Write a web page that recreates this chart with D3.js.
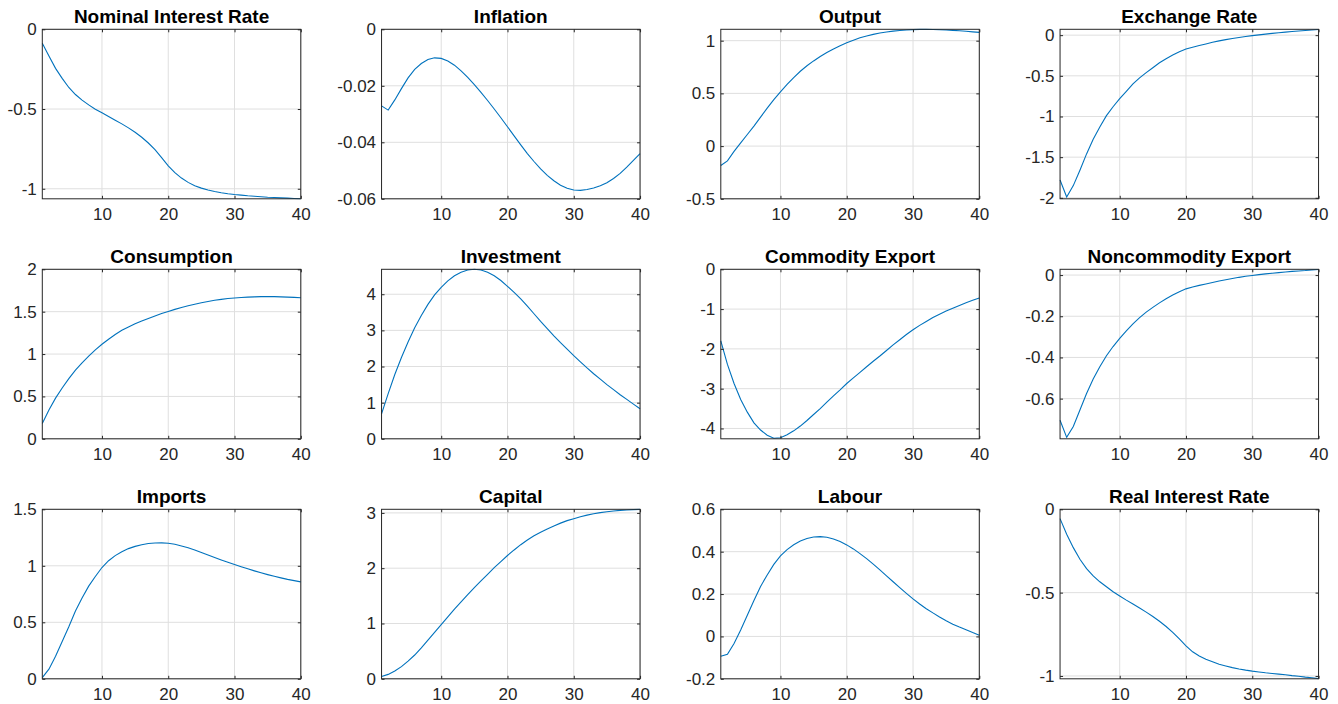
<!DOCTYPE html>
<html>
<head>
<meta charset="utf-8">
<script src="https://cdn.jsdelivr.net/npm/d3@7"></script>
<style>
  body { margin: 0; background: #fff; }
  text { font-family: "Liberation Sans", Arial, Helvetica, sans-serif; }
</style>
</head>
<body>
<svg id="fig" width="1338" height="704"></svg>
<script>
// Impulse responses over 40 quarters
const periods = [1,2,3,4,5,6,7,8,9,10,11,12,13,14,15,16,17,18,19,20,
                 21,22,23,24,25,26,27,28,29,30,31,32,33,34,35,36,37,38,39,40];

const titles = ["Nominal Interest Rate", "Inflation", "Output", "Exchange Rate",
                "Consumption", "Investment", "Commodity Export", "Noncommodity Export",
                "Imports", "Capital", "Labour", "Real Interest Rate"];

const nominalRate = [-0.088,-0.168,-0.245,-0.308,-0.365,-0.409,-0.444,-0.474,-0.501,-0.524,
                     -0.547,-0.570,-0.593,-0.618,-0.646,-0.677,-0.713,-0.755,-0.805,-0.857,
                     -0.899,-0.933,-0.960,-0.981,-0.996,-1.008,-1.017,-1.025,-1.031,-1.036,
                     -1.040,-1.044,-1.047,-1.050,-1.053,-1.055,-1.057,-1.059,-1.061,-1.063];
const inflation = [-0.0271,-0.0286,-0.0250,-0.0210,-0.0172,-0.0142,-0.0121,-0.0107,-0.0101,-0.0103,
                   -0.0112,-0.0127,-0.0147,-0.0170,-0.0196,-0.0223,-0.0252,-0.0282,-0.0313,-0.0345,
                   -0.0377,-0.0409,-0.0440,-0.0468,-0.0494,-0.0517,-0.0536,-0.0552,-0.0563,-0.0569,
                   -0.0570,-0.0567,-0.0562,-0.0554,-0.0543,-0.0528,-0.0510,-0.0488,-0.0464,-0.0440];
const output = [-0.184,-0.140,-0.050,0.030,0.110,0.190,0.275,0.360,0.440,0.515,
                0.585,0.650,0.710,0.762,0.808,0.850,0.888,0.922,0.953,0.980,
                1.005,1.027,1.045,1.060,1.073,1.083,1.091,1.097,1.102,1.105,
                1.107,1.107,1.106,1.104,1.102,1.098,1.094,1.089,1.084,1.079];
const exchangeRate = [-1.78,-1.99,-1.85,-1.66,-1.46,-1.28,-1.13,-0.99,-0.88,-0.78,
                      -0.69,-0.60,-0.525,-0.46,-0.40,-0.34,-0.29,-0.245,-0.205,-0.17,
                      -0.148,-0.128,-0.108,-0.088,-0.070,-0.055,-0.042,-0.029,-0.017,-0.006,
                      0.004,0.013,0.022,0.030,0.037,0.044,0.051,0.057,0.064,0.070];
const consumption = [0.18,0.34,0.48,0.60,0.71,0.81,0.895,0.975,1.05,1.115,
                     1.175,1.23,1.28,1.32,1.357,1.39,1.42,1.45,1.478,1.503,
                     1.527,1.549,1.569,1.588,1.605,1.62,1.634,1.645,1.655,1.662,
                     1.668,1.672,1.675,1.677,1.678,1.677,1.675,1.672,1.669,1.665];
const investment = [0.69,1.25,1.78,2.25,2.68,3.07,3.41,3.72,3.98,4.19,
                    4.37,4.51,4.61,4.67,4.69,4.67,4.61,4.51,4.38,4.22,
                    4.05,3.87,3.67,3.46,3.25,3.05,2.85,2.66,2.48,2.30,
                    2.13,1.96,1.80,1.65,1.50,1.36,1.22,1.09,0.96,0.83];
const commodityExport = [-1.80,-2.39,-2.87,-3.27,-3.59,-3.86,-4.04,-4.17,-4.245,-4.235,
                         -4.16,-4.06,-3.94,-3.80,-3.65,-3.50,-3.34,-3.18,-3.03,-2.87,
                         -2.73,-2.59,-2.45,-2.31,-2.18,-2.04,-1.90,-1.77,-1.64,-1.52,
                         -1.41,-1.31,-1.21,-1.13,-1.05,-0.98,-0.91,-0.84,-0.78,-0.72];
const noncommodityExport = [-0.705,-0.788,-0.735,-0.655,-0.575,-0.505,-0.445,-0.392,-0.347,-0.307,
                            -0.271,-0.237,-0.207,-0.180,-0.157,-0.135,-0.115,-0.097,-0.081,-0.067,
                            -0.058,-0.050,-0.043,-0.036,-0.029,-0.023,-0.017,-0.011,-0.006,-0.002,
                            0.002,0.006,0.009,0.012,0.015,0.018,0.020,0.022,0.025,0.027];
const imports = [0.01,0.085,0.20,0.33,0.46,0.60,0.715,0.82,0.905,0.985,
                 1.045,1.09,1.125,1.152,1.172,1.187,1.197,1.202,1.203,1.199,
                 1.19,1.176,1.159,1.139,1.117,1.095,1.073,1.052,1.031,1.011,
                 0.992,0.973,0.955,0.938,0.922,0.907,0.893,0.880,0.869,0.858];
const capital = [0.04,0.08,0.14,0.22,0.32,0.43,0.56,0.70,0.84,0.98,
                 1.12,1.26,1.39,1.52,1.65,1.77,1.89,2.01,2.12,2.23,
                 2.33,2.425,2.51,2.585,2.65,2.71,2.765,2.815,2.86,2.895,
                 2.93,2.96,2.985,3.005,3.02,3.035,3.045,3.053,3.059,3.063];
const labour = [-0.094,-0.084,-0.033,0.030,0.100,0.170,0.236,0.290,0.340,0.380,
                0.410,0.433,0.450,0.462,0.469,0.471,0.468,0.460,0.448,0.432,
                0.413,0.391,0.367,0.341,0.314,0.286,0.258,0.230,0.203,0.177,
                0.153,0.131,0.111,0.092,0.074,0.058,0.044,0.031,0.018,0.006];
const realRate = [-0.056,-0.150,-0.230,-0.300,-0.356,-0.400,-0.435,-0.465,-0.495,-0.520,
                  -0.545,-0.568,-0.592,-0.617,-0.643,-0.672,-0.703,-0.738,-0.778,-0.820,
                  -0.855,-0.880,-0.900,-0.915,-0.930,-0.940,-0.950,-0.958,-0.965,-0.971,
                  -0.976,-0.981,-0.985,-0.989,-0.993,-0.998,-1.002,-1.007,-1.011,-1.016];

const seriesList = [nominalRate, inflation, output, exchangeRate,
                    consumption, investment, commodityExport, noncommodityExport,
                    imports, capital, labour, realRate];

const yLimits = [[-1.063, 0], [-0.06, 0], [-0.5, 1.108], [-2.012, 0.072],
                 [0, 2], [0, 4.69], [-4.26, 0], [-0.795, 0.028],
                 [0, 1.5], [0, 3.065], [-0.2, 0.6], [-1.017, 0]];

const yTicks = [[-1, -0.5, 0], [-0.06, -0.04, -0.02, 0], [-0.5, 0, 0.5, 1], [-2, -1.5, -1, -0.5, 0],
                [0, 0.5, 1, 1.5, 2], [0, 1, 2, 3, 4], [-4, -3, -2, -1, 0], [-0.6, -0.4, -0.2, 0],
                [0, 0.5, 1, 1.5], [0, 1, 2, 3], [-0.2, 0, 0.2, 0.4, 0.6], [-1, -0.5, 0]];

const xTicks = [10, 20, 30, 40];
const xLimits = [1, 40];

// Grid of 3 x 4 axes
const axLeft = 42.3, colStep = 339.25, axTop = 29.3, rowStep = 240;
const axW = 258.5, axH = 169.5;
const lineColor = "#0072BD", axisColor = "#262626", gridColor = "#dfdfdf";
const tickFont = 17, titleFont = 19;

const svg = d3.select("#fig");
svg.append("rect").attr("width", 1338).attr("height", 704).attr("fill", "#fff");

const fmt = v => String(+v.toFixed(4));

seriesList.forEach((values, i) => {
  const col = i % 4, row = Math.floor(i / 4);
  const g = svg.append("g")
    .attr("transform", `translate(${axLeft + col * colStep},${axTop + row * rowStep})`);

  const x = d3.scaleLinear().domain(xLimits).range([0, axW]);
  const y = d3.scaleLinear().domain(yLimits[i]).range([axH, 0]);

  // grid lines
  g.append("g").selectAll("line").data(xTicks).join("line")
    .attr("x1", d => x(d)).attr("x2", d => x(d))
    .attr("y1", 0).attr("y2", axH)
    .attr("stroke", gridColor).attr("stroke-width", 1);
  g.append("g").selectAll("line").data(yTicks[i]).join("line")
    .attr("x1", 0).attr("x2", axW)
    .attr("y1", d => y(d)).attr("y2", d => y(d))
    .attr("stroke", gridColor).attr("stroke-width", 1);

  // clip to the axes box
  const clipId = "clip" + i;
  g.append("clipPath").attr("id", clipId)
    .append("rect").attr("x", -1).attr("y", -1).attr("width", axW + 2).attr("height", axH + 2);

  const line = d3.line().x((d, k) => x(periods[k])).y(d => y(d));
  g.append("path").datum(values)
    .attr("clip-path", `url(#${clipId})`)
    .attr("d", line)
    .attr("fill", "none")
    .attr("stroke", lineColor)
    .attr("stroke-width", 1.1);

  // axes with inward ticks
  const styleAxis = sel => {
    sel.select(".domain").remove();
    sel.selectAll(".tick line").attr("stroke", axisColor);
    sel.selectAll(".tick text")
      .attr("fill", axisColor)
      .style("font-size", tickFont + "px")
      .style("font-family", '"Liberation Sans", Arial, sans-serif');
  };
  g.append("g").attr("transform", `translate(0,${axH})`)
    .call(d3.axisBottom(x).tickValues(xTicks).tickSizeInner(-3).tickSizeOuter(0)
      .tickPadding(9.5).tickFormat(fmt))
    .call(styleAxis);
  g.append("g")
    .call(d3.axisTop(x).tickValues(xTicks).tickSizeInner(-3).tickSizeOuter(0).tickFormat(""))
    .call(styleAxis);
  g.append("g")
    .call(d3.axisLeft(y).tickValues(yTicks[i]).tickSizeInner(-3).tickSizeOuter(0)
      .tickPadding(5.5).tickFormat(fmt))
    .call(styleAxis);
  g.append("g").attr("transform", `translate(${axW},0)`)
    .call(d3.axisRight(y).tickValues(yTicks[i]).tickSizeInner(-3).tickSizeOuter(0).tickFormat(""))
    .call(styleAxis);

  // box
  g.append("rect").attr("x", 0).attr("y", 0).attr("width", axW).attr("height", axH)
    .attr("fill", "none").attr("stroke", axisColor).attr("stroke-width", 1);

  // title
  g.append("text")
    .attr("x", axW / 2).attr("y", -6)
    .attr("text-anchor", "middle")
    .attr("font-weight", "bold")
    .attr("fill", "#000")
    .style("font-size", titleFont + "px")
    .text(titles[i]);
});
</script>
</body>
</html>
